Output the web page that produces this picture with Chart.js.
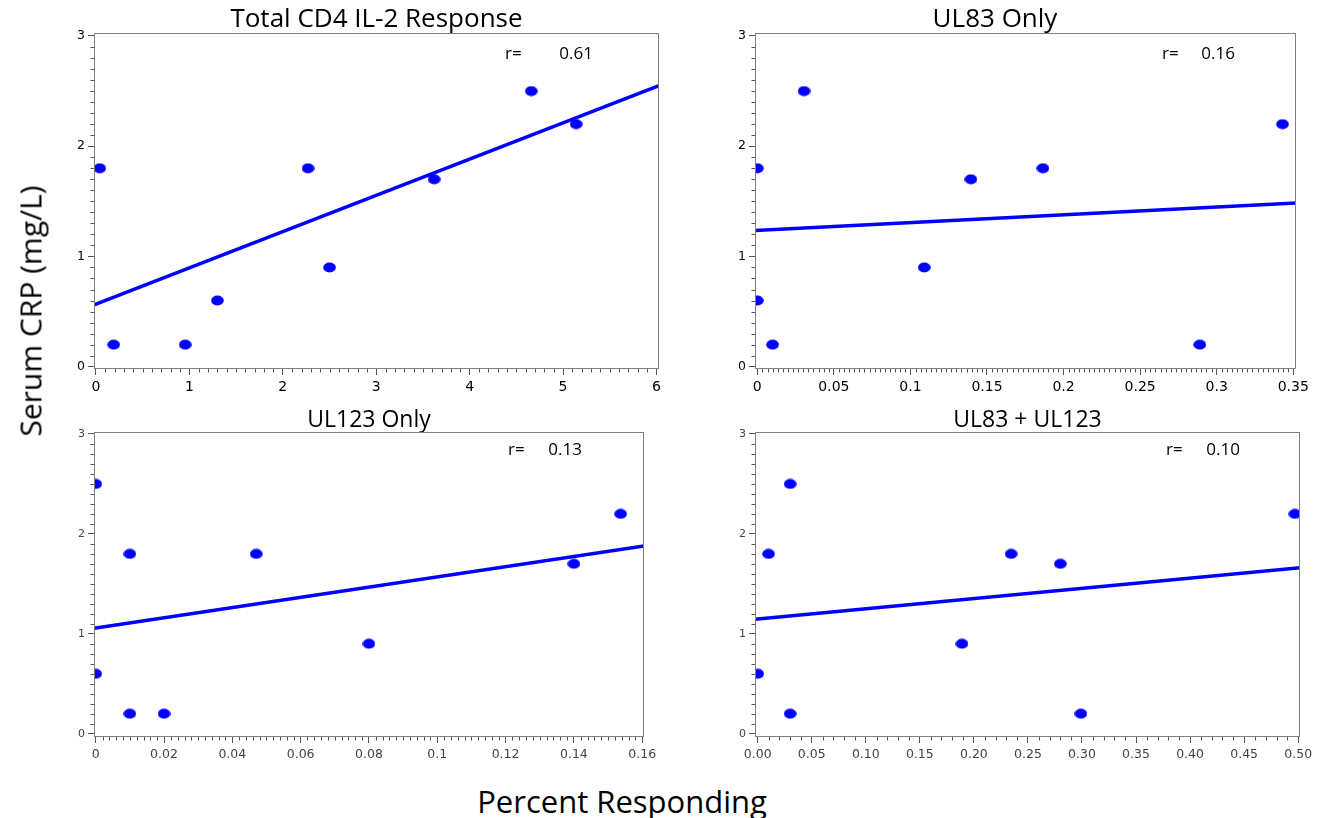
<!DOCTYPE html>
<html><head><meta charset="utf-8">
<script src="https://cdn.jsdelivr.net/npm/chart.js@4.4.1/dist/chart.umd.min.js"></script>
<style>
html,body{margin:0;padding:0;background:#fff;}
body{width:1320px;height:818px;position:relative;overflow:hidden;font-family:'Open Sans',sans-serif;}
.panel{position:absolute;}
.panel canvas{display:block;}
#ytitle{position:absolute;left:30px;top:311px;transform:translate(-50%,-50%) rotate(-90deg);font-size:30px;white-space:nowrap;color:#000;}
#xtitle{position:absolute;left:622px;top:801px;transform:translate(-50%,-50%);font-size:31px;white-space:nowrap;color:#000;}
</style></head><body>
<div class="panel" style="left:20px;top:0px;width:670px;height:405px"><canvas id="c1" width="670" height="405"></canvas></div>
<div class="panel" style="left:694px;top:0px;width:626px;height:405px"><canvas id="c2" width="626" height="405"></canvas></div>
<div class="panel" style="left:20px;top:400px;width:670px;height:380px"><canvas id="c3" width="670" height="380"></canvas></div>
<div class="panel" style="left:690px;top:400px;width:630px;height:380px"><canvas id="c4" width="630" height="380"></canvas></div>
<div id="ytitle">Serum CRP (mg/L)</div>
<div id="xtitle">Percent Responding</div>
<script>
// ---------- data ----------
const panelTitles = ['Total CD4 IL-2 Response', 'UL83 Only', 'UL123 Only', 'UL83 + UL123'];
const rValues = ['0.61', '0.16', '0.13', '0.10'];

const yTickValues = [0, 1, 2, 3];
const yTickLabels = ['0', '1', '2', '3'];

const totalTickValues = [0, 1, 2, 3, 4, 5, 6];
const totalTickLabels = ['0', '1', '2', '3', '4', '5', '6'];
const ul83TickValues = [0, 0.05, 0.1, 0.15, 0.2, 0.25, 0.3, 0.35];
const ul83TickLabels = ['0', '0.05', '0.1', '0.15', '0.2', '0.25', '0.3', '0.35'];
const ul123TickValues = [0, 0.02, 0.04, 0.06, 0.08, 0.1, 0.12, 0.14, 0.16];
const ul123TickLabels = ['0', '0.02', '0.04', '0.06', '0.08', '0.1', '0.12', '0.14', '0.16'];
const bothTickValues = [0, 0.05, 0.1, 0.15, 0.2, 0.25, 0.3, 0.35, 0.4, 0.45, 0.5];
const bothTickLabels = ['0.00', '0.05', '0.10', '0.15', '0.20', '0.25', '0.30', '0.35', '0.40', '0.45', '0.50'];

const totalX = [0.04, 0.19, 0.955, 1.30, 2.27, 2.50, 3.62, 4.66, 5.14];
const totalY = [1.8, 0.2, 0.2, 0.6, 1.8, 0.9, 1.7, 2.5, 2.2];
const totalFitX = [-0.0214, 6.027];
const totalFitY = [0.56, 2.55];

const ul83X = [0.0, 0.0, 0.010, 0.0305, 0.109, 0.1395, 0.1865, 0.289, 0.343];
const ul83Y = [1.8, 0.6, 0.2, 2.5, 0.9, 1.7, 1.8, 0.2, 2.2];
const ul83FitX = [-0.0015, 0.3518];
const ul83FitY = [1.235, 1.485];

const ul123X = [0.0, 0.0, 0.010, 0.010, 0.020, 0.047, 0.080, 0.140, 0.1537];
const ul123Y = [2.5, 0.6, 1.8, 0.2, 0.2, 1.8, 0.9, 1.7, 2.2];
const ul123FitX = [-0.0005, 0.16053];
const ul123FitY = [1.055, 1.88];

const bothX = [0.0, 0.010, 0.030, 0.030, 0.189, 0.2345, 0.280, 0.299, 0.497];
const bothY = [0.6, 1.8, 2.5, 0.2, 0.9, 1.8, 1.7, 0.2, 2.2];
const bothFitX = [-0.0025, 0.5017];
const bothFitY = [1.145, 1.66];

// ---------- helpers ----------
const BLUE = '#0000ff';
const dot = document.createElement('canvas');
dot.width = 13; dot.height = 11;
(function () {
  const c = dot.getContext('2d');
  c.fillStyle = BLUE;
  c.beginPath();
  c.ellipse(6.5, 5.5, 6.3, 5.0, 0, 0, Math.PI * 2);
  c.fill();
})();

function pts(xs, ys) { return xs.map((x, i) => ({ x: x, y: ys[i] })); }

const framePlugin = {
  id: 'frame',
  afterDatasetsDraw(chart, args, o) {
    const { ctx, chartArea: a } = chart;
    ctx.save();
    ctx.strokeStyle = o.color;
    ctx.lineWidth = 1;
    const l = Math.round(a.left) + 0.5, t = Math.round(a.top) + 0.5;
    const r = Math.round(a.right) - 0.5, b = Math.round(a.bottom) - 0.5;
    ctx.strokeRect(l, t, r - l, b - t);
    ctx.restore();
  }
};

const minorPlugin = {
  id: 'minorTicks',
  afterDraw(chart, args, o) {
    const { ctx, chartArea: a } = chart;
    const xs = chart.scales.x, ys = chart.scales.y;
    ctx.save();
    ctx.strokeStyle = o.color;
    ctx.lineWidth = 1;
    ctx.beginPath();
    const sx = o.xMajor / o.xCount;
    for (let i = Math.ceil(xs.min / sx - 1e-9); i <= Math.floor(xs.max / sx + 1e-9); i++) {
      if (i % o.xCount === 0) continue;
      const px = Math.round(xs.getPixelForValue(i * sx)) + 0.5;
      ctx.moveTo(px, Math.round(a.bottom));
      ctx.lineTo(px, Math.round(a.bottom) + o.len);
    }
    const sy = o.yMajor / o.yCount;
    for (let i = Math.ceil(ys.min / sy - 1e-9); i <= Math.floor(ys.max / sy + 1e-9); i++) {
      if (i % o.yCount === 0) continue;
      const py = Math.round(ys.getPixelForValue(i * sy)) + 0.5;
      ctx.moveTo(Math.round(a.left), py);
      ctx.lineTo(Math.round(a.left) - o.len, py);
    }
    ctx.stroke();
    ctx.restore();
  }
};

const rTextPlugin = {
  id: 'rText',
  afterDatasetsDraw(chart, args, o) {
    const { ctx, chartArea: a } = chart;
    ctx.save();
    ctx.fillStyle = '#000';
    ctx.font = o.font;
    ctx.textBaseline = 'middle';
    ctx.textAlign = 'left';
    ctx.fillText('r=', a.right + o.rx, a.top + o.dy);
    ctx.textAlign = 'right';
    ctx.fillText(o.value, a.right + o.vx, a.top + o.dy);
    ctx.restore();
  }
};

// ---------- panels (layout/style only) ----------
const TICKFONT = "'DejaVu Sans', sans-serif";
const panels = [
  { id: 'c1', t: 0, xs: totalX, ys: totalY, fx: totalFitX, fy: totalFitY, xv: totalTickValues, xl: totalTickLabels,
    xMin: -0.0214, xMax: 6.027, yMin: -0.021, yMax: 3.027, xMajor: 1, xCount: 10,
    yW: 74, xH: 36, padR: 31, tSize: 26, tPad: { top: 7, bottom: 0 }, tFull: false,
    xFont: 14, yFont: 12.5, tickCol: '#000', r: { rx: -154, vx: -66, dy: 21 } },
  { id: 'c2', t: 1, xs: ul83X, ys: ul83Y, fx: ul83FitX, fy: ul83FitY, xv: ul83TickValues, xl: ul83TickLabels,
    xMin: -0.0015, xMax: 0.3518, yMin: -0.021, yMax: 3.027, xMajor: 0.05, xCount: 15,
    yW: 61, xH: 36, padR: 24, tSize: 26, tPad: { top: 7, bottom: 0 }, tFull: true,
    xFont: 14, yFont: 12.5, tickCol: '#000', r: { rx: -134, vx: -61, dy: 21 } },
  { id: 'c3', t: 2, xs: ul123X, ys: ul123Y, fx: ul123FitX, fy: ul123FitY, xv: ul123TickValues, xl: ul123TickLabels,
    xMin: -0.0005, xMax: 0.16053, yMin: -0.033, yMax: 3.02, xMajor: 0.02, xCount: 10,
    yW: 74, xH: 43, padR: 46, tSize: 23, tPad: { top: 9, bottom: 0 }, tFull: false,
    xFont: 12.5, yFont: 11, tickCol: '#444', r: { rx: -136, vx: -62, dy: 18 } },
  { id: 'c4', t: 3, xs: bothX, ys: bothY, fx: bothFitX, fy: bothFitY, xv: bothTickValues, xl: bothTickLabels,
    xMin: -0.0025, xMax: 0.5017, yMin: -0.033, yMax: 3.02, xMajor: 0.05, xCount: 5,
    yW: 65, xH: 43, padR: 20, tSize: 23, tPad: { top: 9, bottom: 0 }, tFull: false,
    xFont: 12.5, yFont: 11, tickCol: '#444', r: { rx: -134, vx: -60, dy: 18 } }
];

panels.forEach(p => {
  new Chart(document.getElementById(p.id), {
    type: 'scatter',
    data: {
      datasets: [
        { data: pts(p.xs, p.ys), pointStyle: dot, pointRadius: 6, backgroundColor: BLUE, borderColor: BLUE, showLine: false, order: 2 },
        { data: pts(p.fx, p.fy), showLine: true, pointRadius: 0, borderColor: BLUE, borderWidth: 3.5, fill: false, order: 1 }
      ]
    },
    options: {
      responsive: false,
      animation: false,
      devicePixelRatio: 1,
      layout: { padding: { left: 0, top: 0, right: p.padR, bottom: 0 } },
      plugins: {
        legend: { display: false },
        tooltip: { enabled: false },
        title: { display: true, text: panelTitles[p.t], color: '#000', fullSize: p.tFull,
          font: { family: "'Open Sans', sans-serif", size: p.tSize, weight: 'normal', lineHeight: 1 },
          padding: p.tPad },
        frame: { color: '#808080' },
        minorTicks: { color: '#555', len: 3.5, xMajor: p.xMajor, xCount: p.xCount, yMajor: 1, yCount: 10 },
        rText: { font: "17px 'Open Sans', sans-serif", value: rValues[p.t], rx: p.r.rx, vx: p.r.vx, dy: p.r.dy }
      },
      scales: {
        x: {
          type: 'linear', position: 'bottom', min: p.xMin, max: p.xMax,
          afterBuildTicks: s => { s.ticks = p.xv.map(v => ({ value: v })); },
          afterFit: s => { s.height = p.xH; },
          ticks: { autoSkip: false, maxRotation: 0, minRotation: 0, padding: 4, color: p.tickCol,
            font: { family: TICKFONT, size: p.xFont },
            callback: (v, i) => p.xl[i] },
          grid: { display: true, drawOnChartArea: false, drawTicks: true, tickLength: 6, color: '#555', tickColor: '#555' },
          border: { display: false }
        },
        y: {
          type: 'linear', position: 'left', min: p.yMin, max: p.yMax,
          afterBuildTicks: s => { s.ticks = yTickValues.map(v => ({ value: v })); },
          afterFit: s => { s.width = p.yW; },
          ticks: { autoSkip: false, padding: 3, color: p.tickCol,
            font: { family: TICKFONT, size: p.yFont },
            callback: (v, i) => yTickLabels[i] },
          grid: { display: true, drawOnChartArea: false, drawTicks: true, tickLength: 6, color: '#555', tickColor: '#555' },
          border: { display: false }
        }
      }
    },
    plugins: [framePlugin, minorPlugin, rTextPlugin]
  });
});
</script>
</body></html>
